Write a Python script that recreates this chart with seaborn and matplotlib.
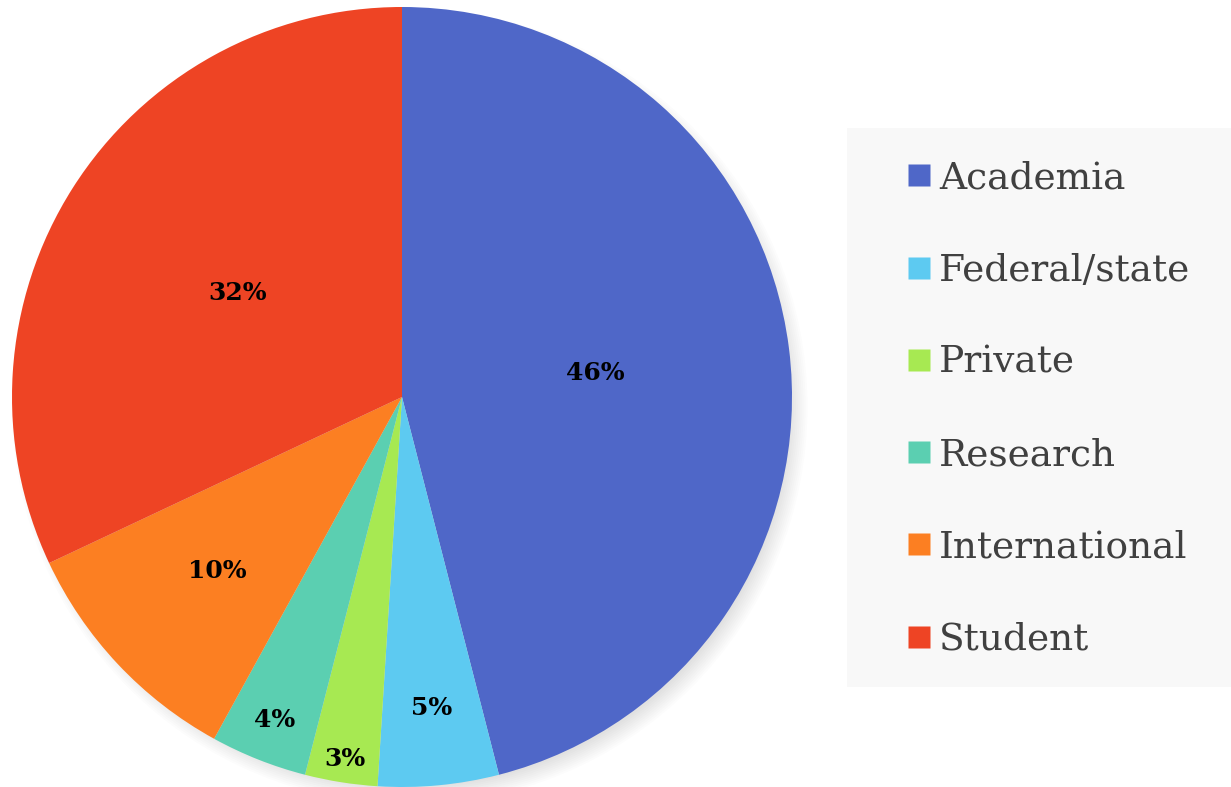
import matplotlib
matplotlib.use("Agg")
import matplotlib.pyplot as plt
import seaborn as sns
import numpy as np
from matplotlib.lines import Line2D
from matplotlib.patches import Circle, Rectangle

categories = ["Academia", "Federal/state", "Private", "Research", "International", "Student"]
values = [46, 5, 3, 4, 10, 32]
colors = ["#4F67C8", "#5DCAF1", "#A7E952", "#5BCFB1", "#FC7F22", "#EE4424"]
label_radius = [0.5, 0.8, 0.94, 0.89, 0.65, 0.5]

sns.set_theme(style="white")
plt.rcParams["font.family"] = ["DejaVu Serif"]

W, H = 1231, 787
fig = plt.figure(figsize=(W / 100, H / 100), dpi=100)
fig.patch.set_facecolor("white")

cx, cy, r = 402, 397, 390
ax = fig.add_axes([(cx - r) / W, (H - cy - r) / H, 2 * r / W, 2 * r / H])
ax.set_xlim(-1, 1)
ax.set_ylim(-1, 1)
ax.axis("off")

# soft shadow (bottom-right)
for k in range(10):
    c = Circle((0.02, -0.025), 0.975 + 0.005 * k, facecolor="black", alpha=0.012,
               edgecolor="none", clip_on=False, zorder=0)
    ax.add_patch(c)

wedges, _ = ax.pie(values, colors=colors, startangle=90, counterclock=False,
                   radius=1.0, wedgeprops=dict(linewidth=0, edgecolor="none"))
for w in wedges:
    w.set_zorder(2)
ax.set_xlim(-1, 1)
ax.set_ylim(-1, 1)

for w, v, lr in zip(wedges, values, label_radius):
    ang = np.deg2rad((w.theta1 + w.theta2) / 2)
    ax.text(lr * np.cos(ang), lr * np.sin(ang), f"{v}%", ha="center", va="center",
            fontsize=18, fontweight="bold", color="black", zorder=3)

# legend box
fig.patches.append(Rectangle((847 / W, (H - 687) / H), 384 / W, 559 / H,
                             transform=fig.transFigure, facecolor="#F8F8F8",
                             edgecolor="none", zorder=0))

handles = [Line2D([0], [0], marker="s", linestyle="none", markersize=16,
                  markerfacecolor=c, markeredgecolor="none") for c in colors]
leg = fig.legend(handles, categories, loc="center left",
                 bbox_to_anchor=(890 / W, (H - 409) / H), frameon=False,
                 fontsize=27, labelcolor="#404040", handlelength=0.55,
                 handletextpad=0.25, labelspacing=1.5, borderpad=0)

fig.savefig("out.png", dpi=100, facecolor="white")
